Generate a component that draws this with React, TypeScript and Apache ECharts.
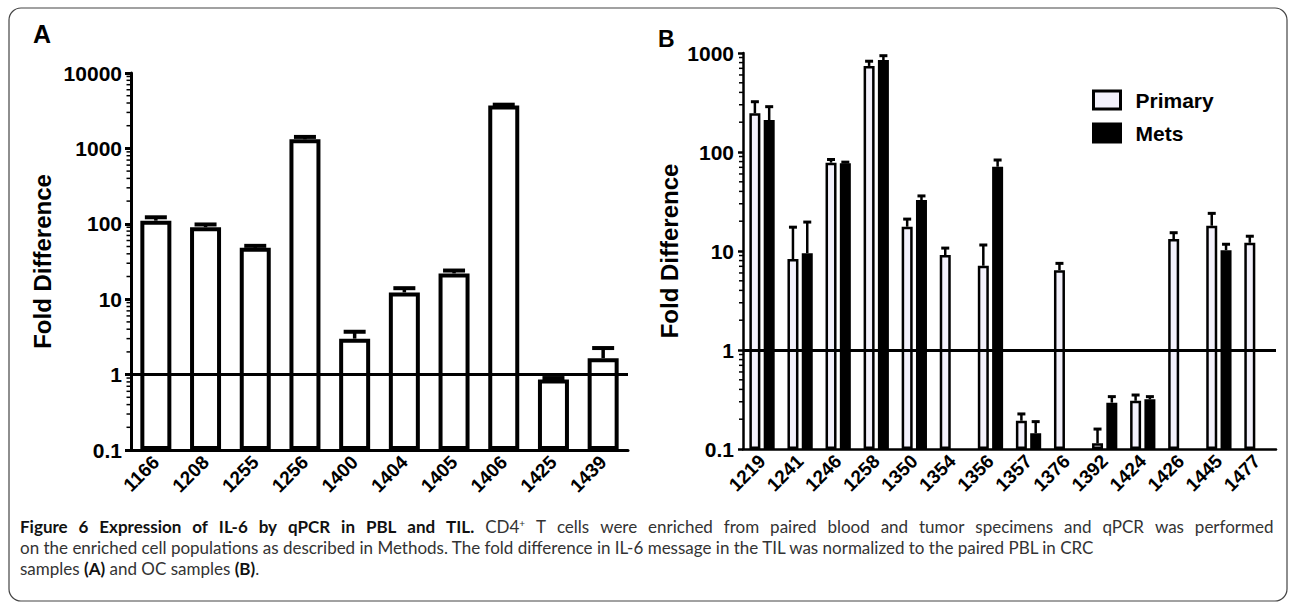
import React, { useEffect, useRef } from "react";
import * as echarts from "echarts";

// Panel A (CRC samples)
const catsA = ["1166", "1208", "1255", "1256", "1400", "1404", "1405", "1406", "1425", "1439"];
const valsA = [110, 90, 48, 1320, 3.0, 12.3, 22, 3700, 0.86, 1.65];
const errA = [122, 98, 51, 1420, 3.7, 14, 24, 3800, 0.9, 2.25];

// Panel B (OC samples)
const catsB = ["1219", "1241", "1246", "1258", "1350", "1354", "1356", "1357", "1376", "1392", "1424", "1426", "1445", "1477"];
const primaryB = [246, 8.3, 78, 740, 17.6, 9.1, 7.1, 0.193, 6.4, 0.114, 0.307, 13.2, 18.0, 12.1];
const primaryErrB = [322, 17.4, 84, 826, 21, 10.7, 11.5, 0.226, 7.5, 0.159, 0.351, 15.3, 24, 14.1];
const metsB = [210, 9.5, 77, 850, 32.7, null, 71, 0.144, null, 0.294, 0.318, null, 10.2, null];
const metsErrB = [287, 19.6, 79, 939, 36, null, 83, 0.189, null, 0.338, 0.338, null, 11.7, null];

const decadesA = [0.1, 1, 10, 100, 1000];
const decadesB = [0.1, 1, 10, 100];
const minorMult = [2, 3, 4, 5, 6, 7, 8, 9];

const captionBold1 = "Figure 6 Expression of IL-6 by qPCR in PBL and TIL.";
const captionLine1 = "T cells were enriched from paired blood and tumor specimens and qPCR was performed";
const captionLine2 = "on the enriched cell populations as described in Methods. The fold difference in IL-6 message in the TIL was normalized to the paired PBL in CRC";

const FONT = "'Liberation Sans', Arial, sans-serif";
const CAP_FONT = "Lato, 'Open Sans', sans-serif";
const CAP_SIZE = 17;

function fmt(v: number) {
  return String(Number(v.toPrecision(6)));
}

function errRender(offset: number, capW: number, lw: number, capLw: number) {
  return (params: any, api: any) => {
    const v = api.value(1);
    const e = api.value(2);
    if (v == null || isNaN(v) || e == null || isNaN(e)) return null;
    const i = api.value(0);
    const top = api.coord([i, v]);
    const hi = api.coord([i, e]);
    const x = top[0] + offset;
    return {
      type: "group",
      children: [
        { type: "line", shape: { x1: x, y1: top[1], x2: x, y2: hi[1] }, style: { stroke: "#000", lineWidth: lw } },
        { type: "line", shape: { x1: x - capW / 2, y1: hi[1], x2: x + capW / 2, y2: hi[1] }, style: { stroke: "#000", lineWidth: capLw } },
      ],
    };
  };
}

function minorRender(len: number, lw: number) {
  return (params: any, api: any) => {
    const y = api.coord([0, api.value(1)])[1];
    const x0 = params.coordSys.x;
    return { type: "line", shape: { x1: x0 - len, y1: y, x2: x0, y2: y }, style: { stroke: "#000", lineWidth: lw } };
  };
}

function minorData(decades: number[]) {
  const out: number[][] = [];
  decades.forEach((d) => minorMult.forEach((m) => out.push([0, Number((d * m).toPrecision(4))])));
  return out;
}

function justified(words: string, style: string) {
  return words
    .split(" ")
    .map((w) => `{${style}|${w}}`)
    .join("{g| }");
}

const BW_B = 11;
const GAP_B = 0.3;
const OFF_B = (BW_B + BW_B * GAP_B) / 2;

export default function App() {
  const ref = useRef<HTMLDivElement>(null);
  useEffect(() => {
    if (!ref.current) return;
    const chart = echarts.init(ref.current, null, { renderer: "svg" });
    const axisLabelY = { fontSize: 21, fontWeight: "bold", color: "#000", fontFamily: FONT, margin: 9, formatter: (v: number) => fmt(v) };
    const axisLabelX = { fontSize: 19, fontWeight: "bold", color: "#000", fontFamily: FONT, rotate: 45, margin: 9, interval: 0 };
    const nameStyle = { fontSize: 24, fontWeight: "bold", color: "#000", fontFamily: FONT, verticalAlign: "middle" };
    const markLine = {
      silent: true,
      symbol: "none",
      label: { show: false },
      lineStyle: { color: "#000", width: 3, type: "solid" },
      data: [{ yAxis: 1 }],
    };
    const capRich = {
      b: { fontFamily: CAP_FONT, fontSize: CAP_SIZE, fontWeight: "bold", fill: "#111" },
      r: { fontFamily: CAP_FONT, fontSize: CAP_SIZE, fill: "#333" },
      g: { fontFamily: CAP_FONT, fontSize: CAP_SIZE, fill: "#333", width: 10.9 },
      s: { fontFamily: CAP_FONT, fontSize: 10, fill: "#333", verticalAlign: "top" },
    };
    const line1 =
      justified(captionBold1, "b") + "{g| }{r|CD4}{s|+}{g| }" + justified(captionLine1, "r");
    const option: any = {
      animation: false,
      textStyle: { fontFamily: FONT },
      grid: [
        { left: 131, top: 73, width: 497, height: 377 },
        { left: 743, top: 53, width: 533, height: 396 },
      ],
      xAxis: [
        {
          type: "category",
          gridIndex: 0,
          data: catsA,
          axisLine: { onZero: false, lineStyle: { color: "#000", width: 3 } },
          axisTick: { alignWithLabel: true, length: 6, lineStyle: { color: "#000", width: 3 } },
          axisLabel: axisLabelX,
        },
        {
          type: "category",
          gridIndex: 1,
          data: catsB,
          axisLine: { onZero: false, lineStyle: { color: "#000", width: 2.5 } },
          axisTick: { alignWithLabel: true, length: 5, lineStyle: { color: "#000", width: 2 } },
          axisLabel: axisLabelX,
        },
      ],
      yAxis: [
        {
          type: "log",
          gridIndex: 0,
          logBase: 10,
          min: 0.1,
          max: 10000,
          startValue: 0.1,
          splitNumber: 5,
          splitLine: { show: false },
          axisLine: { show: true, lineStyle: { color: "#000", width: 3 } },
          axisTick: { show: true, length: 6, lineStyle: { color: "#000", width: 3 } },
          axisLabel: axisLabelY,
          name: "Fold Difference",
          nameLocation: "middle",
          nameRotate: 90,
          nameGap: 89,
          nameTextStyle: nameStyle,
        },
        {
          type: "log",
          gridIndex: 1,
          logBase: 10,
          min: 0.1,
          max: 1000,
          startValue: 0.1,
          splitNumber: 4,
          splitLine: { show: false },
          axisLine: { show: true, lineStyle: { color: "#000", width: 2.5 } },
          axisTick: { show: true, length: 5, lineStyle: { color: "#000", width: 2.5 } },
          axisLabel: axisLabelY,
          name: "Fold Difference",
          nameLocation: "middle",
          nameRotate: 90,
          nameGap: 74,
          nameTextStyle: nameStyle,
        },
      ],
      legend: {
        show: true,
        orient: "vertical",
        left: 1092,
        top: 89.5,
        padding: 0,
        itemWidth: 27,
        itemHeight: 18,
        itemGap: 12,
        icon: "rect",
        textStyle: { fontSize: 21, fontWeight: "bold", color: "#000", fontFamily: FONT, padding: [0, 0, 0, 10] },
        data: [
          { name: "Primary", itemStyle: { color: "#f3f1fb", borderColor: "#000", borderWidth: 3 } },
          { name: "Mets", itemStyle: { color: "#000", borderColor: "#000", borderWidth: 3 } },
        ],
      },
      series: [
        {
          name: "A",
          type: "bar",
          xAxisIndex: 0,
          yAxisIndex: 0,
          data: valsA,
          barWidth: 31,
          itemStyle: { color: "#fff", borderColor: "#000", borderWidth: 4 },
          markLine,
          z: 2,
        },
        {
          type: "custom",
          xAxisIndex: 0,
          yAxisIndex: 0,
          data: valsA.map((v, i) => [i, v, errA[i]]),
          encode: { x: 0, y: [1, 2] },
          renderItem: errRender(0, 22, 3.5, 4),
          z: 3,
        },
        {
          type: "custom",
          xAxisIndex: 0,
          yAxisIndex: 0,
          data: minorData(decadesA),
          encode: { x: 0, y: 1 },
          renderItem: minorRender(4.5, 1.5),
          z: 3,
        },
        {
          name: "Primary",
          type: "bar",
          xAxisIndex: 1,
          yAxisIndex: 1,
          data: primaryB,
          barWidth: BW_B,
          barGap: GAP_B * 100 + "%",
          itemStyle: { color: "#f3f1fb", borderColor: "#000", borderWidth: 2.5 },
          markLine,
          z: 2,
        },
        {
          name: "Mets",
          type: "bar",
          xAxisIndex: 1,
          yAxisIndex: 1,
          data: metsB,
          barWidth: BW_B,
          barGap: GAP_B * 100 + "%",
          itemStyle: { color: "#000", borderColor: "#000", borderWidth: 2.5 },
          z: 2,
        },
        {
          type: "custom",
          xAxisIndex: 1,
          yAxisIndex: 1,
          data: primaryB.map((v, i) => [i, v, primaryErrB[i]]),
          encode: { x: 0, y: [1, 2] },
          renderItem: errRender(-OFF_B, 8, 2.5, 3),
          z: 3,
        },
        {
          type: "custom",
          xAxisIndex: 1,
          yAxisIndex: 1,
          data: metsB.map((v, i) => [i, v, metsErrB[i]]),
          encode: { x: 0, y: [1, 2] },
          renderItem: errRender(OFF_B, 8, 2.5, 3),
          z: 3,
        },
        {
          type: "custom",
          xAxisIndex: 1,
          yAxisIndex: 1,
          data: minorData(decadesB),
          encode: { x: 0, y: 1 },
          renderItem: minorRender(4, 1.5),
          z: 3,
        },
      ],
      graphic: [
        {
          type: "rect",
          shape: { x: 9, y: 8, width: 1278, height: 593, r: 12 },
          style: { fill: "none", stroke: "#444", lineWidth: 1.2 },
          silent: true,
        },
        {
          type: "text",
          x: 33,
          y: 21,
          style: { text: "A", font: `bold 25px ${FONT}`, fill: "#000" },
        },
        {
          type: "text",
          x: 658,
          y: 27,
          style: { text: "B", font: `bold 23px ${FONT}`, fill: "#000" },
        },
        {
          type: "text",
          x: 20,
          y: 518,
          style: { text: line1, rich: capRich },
        },
        {
          type: "text",
          x: 20,
          y: 539,
          style: { text: `{r|${captionLine2}}`, rich: capRich },
        },
        {
          type: "text",
          x: 20,
          y: 560,
          style: {
            text: "{r|samples }{b|(A)}{r| and OC samples }{b|(B)}{r|.}",
            rich: capRich,
          },
        },
      ],
    };
    chart.setOption(option);
    return () => chart.dispose();
  }, []);
  return (
    <div
      ref={ref}
      style={{ position: "fixed", left: 0, top: 0, width: 1290, height: 602, background: "#fff" }}
    />
  );
}
